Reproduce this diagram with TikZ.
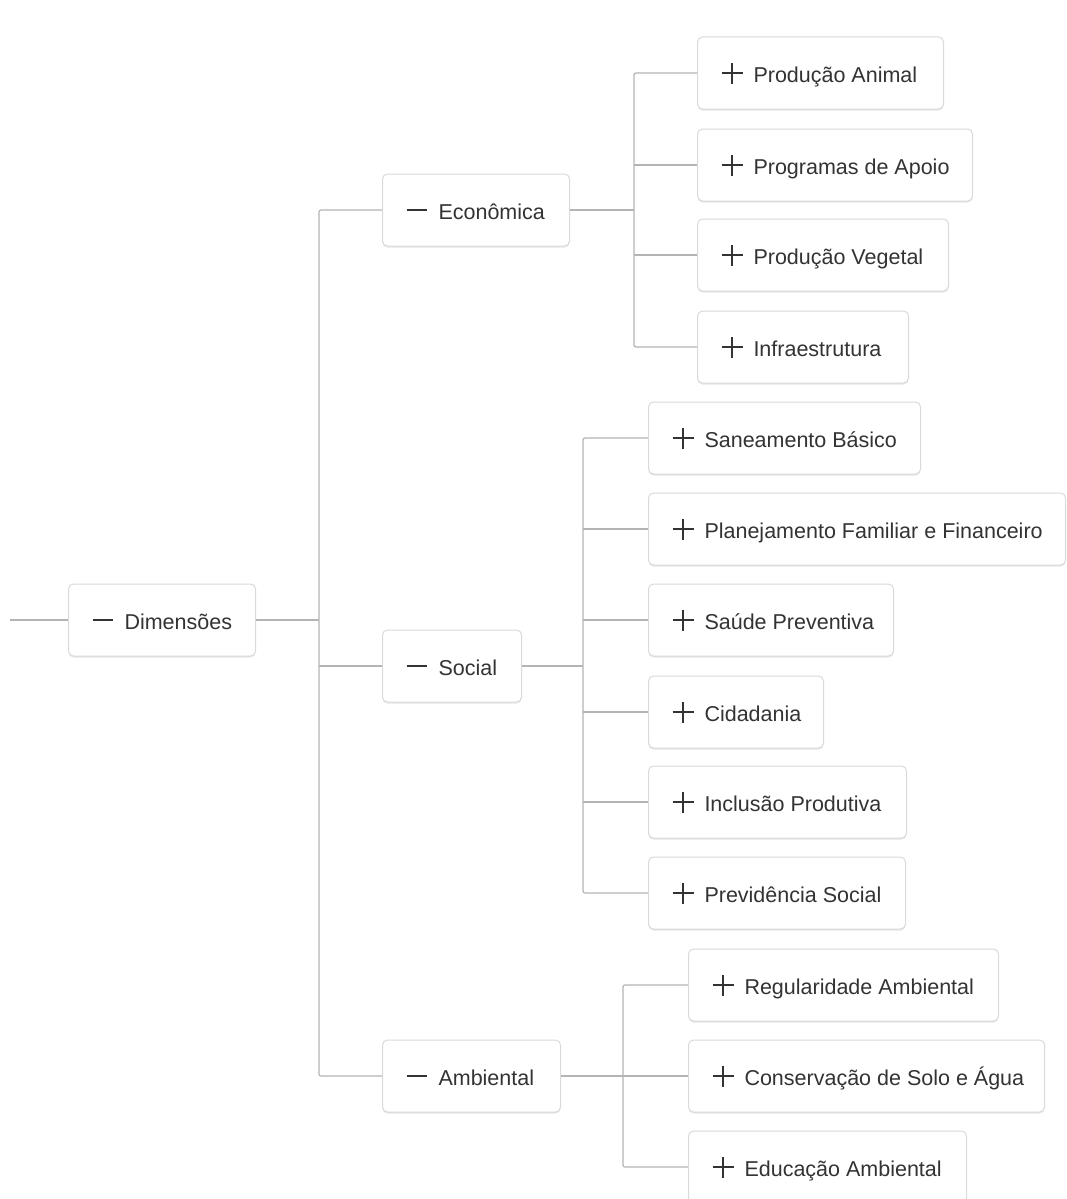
\documentclass[tikz,border=0pt]{standalone}
\usepackage{fontspec}
\setmainfont{Liberation Sans}
\usetikzlibrary{shadows}
\definecolor{txt}{HTML}{333333}
\definecolor{edgec}{HTML}{B4B4B4}
\definecolor{boxc}{HTML}{DADADA}
\newcommand\plusmark{\rlap{\rule[8.8pt]{21pt}{1.5pt}}\hspace{9.75pt}\rule[-1.2pt]{1.5pt}{21pt}\hspace{9.75pt}\hspace{11pt}}
\newcommand\minusmark{\rule[8.9pt]{20pt}{1.4pt}\hspace{12pt}}
\newcommand\lbl[2]{\makebox[#1pt][l]{#2}}
\begin{document}
\begin{tikzpicture}[x=1pt,y=-1pt,
  box/.style={draw=boxc, line width=1pt, rounded corners=5pt, fill=white,
    minimum height=72pt, inner xsep=24pt, inner ysep=0pt,
    text height=21pt, text depth=2pt, anchor=west, text=txt,
    font=\fontsize{21.5pt}{24pt}\selectfont,
    drop shadow={shadow xshift=0pt, shadow yshift=-1.5pt, opacity=0.10, fill=black}},
  conn/.style={draw=edgec, line width=1.2pt, rounded corners=2pt}]
\useasboundingbox (0,0) rectangle (1066,1199);
\fill[white] (0,0) rectangle (1066,1199);
% level 0
\node[box] (dim) at (68,620) {\lbl{139}{\minusmark Dimensões}};
% level 1
\node[box] (eco) at (382,210) {\lbl{139}{\minusmark Econômica}};
\node[box] (soc) at (382,666) {\lbl{91}{\minusmark Social}};
\node[box] (amb) at (382,1076) {\lbl{130}{\minusmark Ambiental}};
% Economica children
\node[box] (pa) at (697,73) {\lbl{198}{\plusmark Produção Animal}};
\node[box] (pda) at (697,165) {\lbl{227}{\plusmark Programas de Apoio}};
\node[box] (pv) at (697,255) {\lbl{203}{\plusmark Produção Vegetal}};
\node[box] (inf) at (697,347) {\lbl{163}{\plusmark Infraestrutura}};
% Social children
\node[box] (sb) at (648,438) {\lbl{224}{\plusmark Saneamento Básico}};
\node[box] (pff) at (648,529) {\lbl{369}{\plusmark Planejamento Familiar e Financeiro}};
\node[box] (sp) at (648,620) {\lbl{197}{\plusmark Saúde Preventiva}};
\node[box] (cid) at (648,712) {\lbl{127}{\plusmark Cidadania}};
\node[box] (ip) at (648,802) {\lbl{210}{\plusmark Inclusão Produtiva}};
\node[box] (ps) at (648,893) {\lbl{209}{\plusmark Previdência Social}};
% Ambiental children
\node[box] (ra) at (688,985) {\lbl{262}{\plusmark Regularidade Ambiental}};
\node[box] (csa) at (688,1076) {\lbl{308}{\plusmark Conservação de Solo e Água}};
\node[box] (ea) at (688,1167) {\lbl{230}{\plusmark Educação Ambiental}};
% junctions
\coordinate (start) at (10,620);
\coordinate (j1) at (319,620);
\coordinate (j2) at (634,210);
\coordinate (j3) at (583,666);
\coordinate (j4) at (623,1076);
% connectors
\draw[conn] (start) -- (dim.west);
\draw[conn] (dim.east) -- (j1);
\draw[conn] (eco.west) -| (j1) |- (amb.west);
\draw[conn] (soc.west) -- (soc.west -| j1);
\draw[conn] (eco.east) -- (j2);
\draw[conn] (pa.west) -| (j2) |- (inf.west);
\draw[conn] (pda.west) -- (pda.west -| j2);
\draw[conn] (pv.west) -- (pv.west -| j2);
\draw[conn] (soc.east) -- (j3);
\draw[conn] (sb.west) -| (j3) |- (ps.west);
\draw[conn] (pff.west) -- (pff.west -| j3);
\draw[conn] (sp.west) -- (sp.west -| j3);
\draw[conn] (cid.west) -- (cid.west -| j3);
\draw[conn] (ip.west) -- (ip.west -| j3);
\draw[conn] (amb.east) -- (j4);
\draw[conn] (ra.west) -| (j4) |- (ea.west);
\draw[conn] (csa.west) -- (csa.west -| j4);
\end{tikzpicture}
\end{document}
